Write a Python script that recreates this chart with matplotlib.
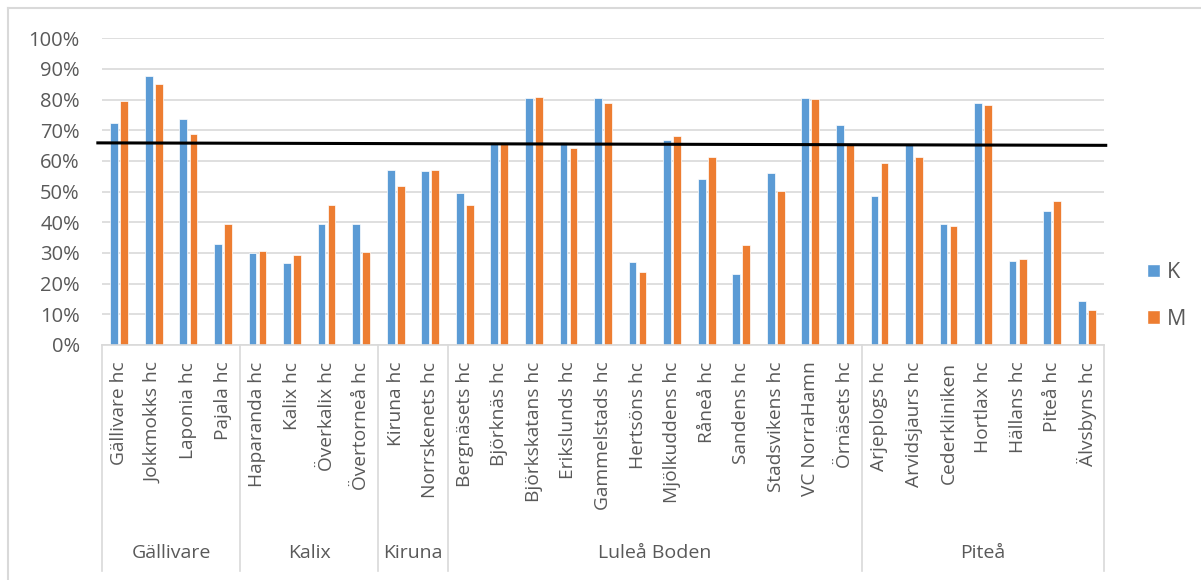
import numpy as np
import matplotlib.pyplot as plt
from matplotlib.lines import Line2D
from matplotlib.patches import Patch

plt.rcParams['font.family'] = ['Open Sans', 'DejaVu Sans']

# Enheter och grupper
enheter = ['Gällivare hc', 'Jokkmokks hc', 'Laponia hc', 'Pajala hc',
           'Haparanda hc', 'Kalix hc', 'Överkalix hc', 'Övertorneå hc',
           'Kiruna hc', 'Norrskenets hc',
           'Bergnäsets hc', 'Björknäs hc', 'Björkskatans hc', 'Erikslunds hc',
           'Gammelstads hc', 'Hertsöns hc', 'Mjölkuddens hc', 'Råneå hc',
           'Sandens hc', 'Stadsvikens hc', 'VC NorraHamn', 'Örnäsets hc',
           'Arjeplogs hc', 'Arvidsjaurs hc', 'Cederkliniken', 'Hortlax hc',
           'Hällans hc', 'Piteå hc', 'Älvsbyns hc']
grupper = ['Gällivare', 'Kalix', 'Kiruna', 'Luleå Boden', 'Piteå']
antal_per_grupp = [4, 4, 2, 12, 7]

# Andelar (K = kvinnor, M = män)
K = [0.725, 0.877, 0.736, 0.328,
     0.299, 0.266, 0.394, 0.394,
     0.570, 0.566,
     0.495, 0.660, 0.804, 0.663, 0.804, 0.269, 0.667, 0.541,
     0.232, 0.560, 0.804, 0.716,
     0.487, 0.654, 0.394, 0.788, 0.274, 0.437, 0.144]
M = [0.796, 0.850, 0.687, 0.394,
     0.307, 0.295, 0.457, 0.303,
     0.520, 0.570,
     0.457, 0.657, 0.808, 0.641, 0.788, 0.237, 0.680, 0.612,
     0.325, 0.503, 0.801, 0.654,
     0.592, 0.612, 0.387, 0.784, 0.279, 0.470, 0.115]

# Målnivå (handritad linje, lutar lite)
mal_start = 0.659
mal_slut = 0.651

blå = '#5B9BD5'
orange = '#ED7D31'
grå_text = '#595959'
grå_linje = '#D9D9D9'

fig = plt.figure(figsize=(12.01, 5.8), dpi=100)
ax = fig.add_axes([102/1201, 1-345/580, 1002/1201, (345-38.3)/580])

x = np.arange(len(enheter))
bredd = 0.225
forskj = 0.145
ax.bar(x - forskj, K, bredd, color=blå, edgecolor='white', linewidth=0.5, label='K', zorder=2)
ax.bar(x + forskj, M, bredd, color=orange, edgecolor='white', linewidth=0.5, label='M', zorder=2)

ax.set_xlim(-0.5, len(enheter) - 0.5)
ax.set_ylim(0, 1)
ax.set_yticks(np.arange(0, 1.01, 0.1))
ax.set_yticklabels([f'{int(round(v*100))}%' for v in np.arange(0, 1.01, 0.1)])
ax.yaxis.grid(True, color=grå_linje, linewidth=1.2, zorder=0)
ax.set_axisbelow(True)
for s in ['top', 'right', 'left']:
    ax.spines[s].set_visible(False)
ax.spines['bottom'].set_color(grå_linje)
ax.spines['bottom'].set_linewidth(1.2)

ax.tick_params(axis='y', length=0, pad=16, labelsize=14.5, labelcolor=grå_text)
ax.set_xticks(x)
ax.set_xticklabels(enheter, rotation=90, va='top', ha='center')
ax.tick_params(axis='x', length=0, pad=12, labelsize=13.8, labelcolor=grå_text)

# Grupplinjer och gruppnamn
trans = ax.get_xaxis_transform()
gränser = np.concatenate([[0], np.cumsum(antal_per_grupp)]) - 0.5
for g in gränser:
    ax.plot([g, g], [0, -0.737], transform=trans, color=grå_linje, linewidth=1.2, clip_on=False)
for i, namn in enumerate(grupper):
    mitt = (gränser[i] + gränser[i+1]) / 2
    ax.text(mitt, -0.678, namn, transform=trans, ha='center', va='center',
            fontsize=14, color=grå_text)

# Mållinje
ax.plot([-0.62, len(enheter) - 0.45], [mal_start, mal_slut], color='black',
        linewidth=2.2, clip_on=False, zorder=5)

# Legend
handtag = [Patch(facecolor=blå, edgecolor='white'), Patch(facecolor=orange, edgecolor='white')]
fig.legend(handtag, ['K', 'M'], loc='center left', bbox_to_anchor=(1128/1201, 1-296/580),
           frameon=False, fontsize=15.5, handlelength=0.6, handleheight=0.6,
           handletextpad=0.3, labelspacing=1.2, labelcolor=grå_text)

# Ram runt diagrammet
fig.add_artist(Line2D([8/1201, 8/1201], [0, 1-8/580], color=grå_linje, linewidth=1.5))
fig.add_artist(Line2D([8/1201, 1], [1-8/580, 1-8/580], color=grå_linje, linewidth=1.5))

fig.savefig('out.png', dpi=100)
